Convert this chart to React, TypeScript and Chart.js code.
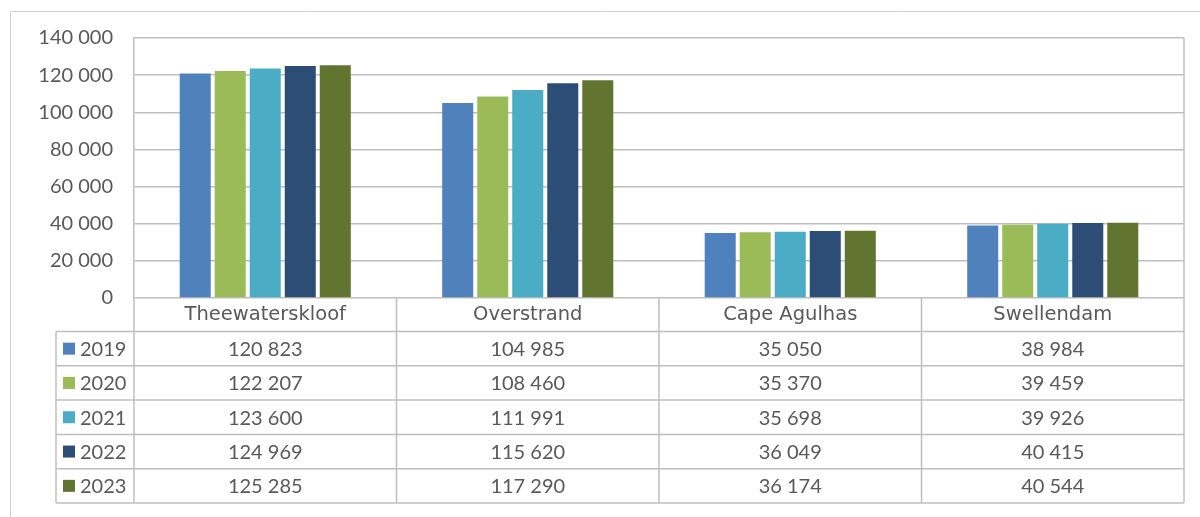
import React, { useEffect, useRef } from 'react';
import { Chart, registerables } from 'chart.js';

Chart.register(...registerables);

const categories = ['Theewaterskloof', 'Overstrand', 'Cape Agulhas', 'Swellendam'];
const seriesLabels = ['2019', '2020', '2021', '2022', '2023'];
const values2019 = [120823, 104985, 35050, 38984];
const values2020 = [122207, 108460, 35370, 39459];
const values2021 = [123600, 111991, 35698, 39926];
const values2022 = [124969, 115620, 36049, 40415];
const values2023 = [125285, 117290, 36174, 40544];
const seriesColors = ['#4F81BD', '#9BBB59', '#4BACC6', '#2C4D75', '#617430'];
const yMin = 0;
const yMax = 140000;
const yStep = 20000;

const seriesValues = [values2019, values2020, values2021, values2022, values2023];

const FONT = 'Lato, "Liberation Sans", sans-serif';
const FONT_SIZE = 20;
const CAT_FONT = '19.5px "DejaVu Sans", sans-serif';
const TEXT = '#595959';
const GRID = '#BFBFBF';

const fmt = (n: number) => String(n).replace(/\B(?=(\d{3})+(?!\d))/g, ' ');

const tablePlugin = {
  id: 'dataTable',
  afterDraw(chart: any) {
    const ctx = chart.ctx as CanvasRenderingContext2D;
    const { left, right, top, bottom } = chart.chartArea;
    const xs = chart.scales.x;
    const n = categories.length;
    const colW = (right - left) / n;
    const headerH = 33.5;
    const rowH = 34.3;
    const tableLeft = 56;
    const rowsTop = bottom + headerH;
    const tableBottom = rowsTop + rowH * seriesLabels.length;

    ctx.save();
    const line = (x1: number, y1: number, x2: number, y2: number) => {
      ctx.beginPath();
      ctx.moveTo(x1, y1);
      ctx.lineTo(x2, y2);
      ctx.stroke();
    };
    ctx.strokeStyle = GRID;
    ctx.lineWidth = 1.5;
    line(right, top, right, bottom);
    for (let i = 0; i <= n; i++) {
      const x = left + i * colW;
      line(x, bottom, x, tableBottom);
    }
    line(tableLeft, rowsTop, tableLeft, tableBottom);
    for (let r = 0; r <= seriesLabels.length; r++) {
      const y = rowsTop + r * rowH;
      line(tableLeft, y, right, y);
    }

    ctx.fillStyle = TEXT;
    ctx.font = CAT_FONT;
    ctx.textBaseline = 'middle';
    ctx.textAlign = 'center';
    categories.forEach((c, i) => {
      ctx.fillText(c, xs.getPixelForValue(i), bottom + headerH / 2);
    });
    ctx.font = `${FONT_SIZE}px ${FONT}`;
    seriesLabels.forEach((s, r) => {
      const cy = rowsTop + r * rowH + rowH / 2 + 1;
      ctx.textAlign = 'center';
      ctx.fillStyle = TEXT;
      seriesValues[r].forEach((v, i) => {
        ctx.fillText(fmt(v), xs.getPixelForValue(i), cy);
      });
      ctx.fillStyle = seriesColors[r];
      ctx.fillRect(63, cy - 7, 12, 12);
      ctx.fillStyle = TEXT;
      ctx.textAlign = 'left';
      ctx.fillText(s, 80, cy);
    });

    ctx.strokeStyle = '#D0D0D0';
    ctx.lineWidth = 1;
    line(10.5, 11.5, 1200, 11.5);
    line(10.5, 11.5, 10.5, 517);
    ctx.restore();
  },
};

export default function App() {
  const ref = useRef<HTMLCanvasElement | null>(null);

  useEffect(() => {
    if (!ref.current) return;
    const chart = new Chart(ref.current, {
      type: 'bar',
      data: {
        labels: categories,
        datasets: seriesLabels.map((s, i) => ({
          label: s,
          data: seriesValues[i],
          backgroundColor: seriesColors[i],
          categoryPercentage: 0.667,
          barPercentage: 0.886,
        })),
      },
      options: {
        animation: false,
        responsive: true,
        maintainAspectRatio: false,
        devicePixelRatio: 1,
        layout: { padding: { left: 14, top: 38, right: 16, bottom: 219 } },
        plugins: {
          legend: { display: false },
          tooltip: { enabled: false },
        },
        scales: {
          x: { display: false },
          y: {
            min: yMin,
            max: yMax,
            ticks: {
              stepSize: yStep,
              padding: 21,
              color: TEXT,
              font: { family: FONT, size: FONT_SIZE },
              callback: (v: any) => fmt(Number(v)),
            },
            grid: { color: GRID, lineWidth: 1.5, drawTicks: false },
            border: { display: true, color: GRID, width: 1.5 },
            afterFit: (scale: any) => {
              scale.width = 120;
            },
          },
        },
      },
      plugins: [tablePlugin],
    });
    return () => chart.destroy();
  }, []);

  return (
    <div style={{ position: 'absolute', left: 0, top: 0, width: 1200, height: 517, background: '#fff' }}>
      <canvas ref={ref} />
    </div>
  );
}
